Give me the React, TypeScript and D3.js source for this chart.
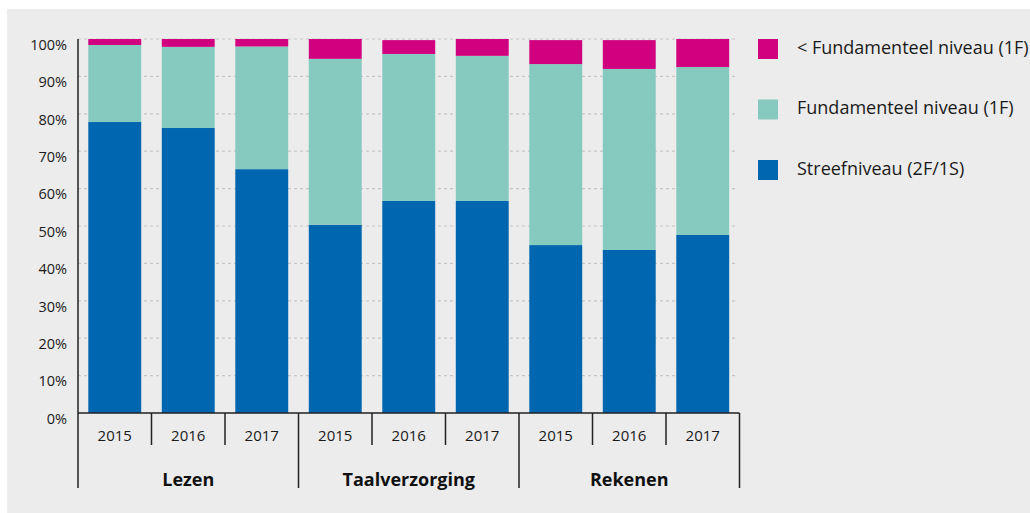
import React from "react";
import * as d3 from "d3";

const groups = ["Lezen", "Taalverzorging", "Rekenen"];
const years = ["2015", "2016", "2017"];
const seriesNames = ["Streefniveau (2F/1S)", "Fundamenteel niveau (1F)", "< Fundamenteel niveau (1F)"];
const seriesColors = ["#0066b0", "#85c9bf", "#d1007f"];
// per bar (group x year order)
const streef = [77.8, 76.2, 65.2, 50.3, 56.7, 56.7, 44.9, 43.6, 47.6];
const fundamenteel = [20.6, 21.7, 32.8, 44.4, 39.3, 38.8, 48.4, 48.4, 44.9];
const onder = [1.6, 2.1, 2.0, 5.3, 3.7, 4.5, 6.4, 7.7, 7.5];
const yTicks = [0, 10, 20, 30, 40, 50, 60, 70, 80, 90, 100];
const legendOrder = [2, 1, 0];

const W = 1030;
const H = 513;
const x0 = 78;
const x1 = 739.5;
const yTop = 39;
const yBottom = 413;
const font = "'Open Sans', 'DejaVu Sans', sans-serif";

export default function App() {
  const keys = groups.flatMap((g) => years.map((y) => `${g}|${y}`));
  const x = d3.scaleBand<string>().domain(keys).range([x0, x1]).paddingInner(0.28).paddingOuter(0.14);
  const y = d3.scaleLinear().domain([0, 100]).range([yBottom, yTop]);
  const rows = keys.map((k, i) => ({ key: k, s0: streef[i], s1: fundamenteel[i], s2: onder[i] }));
  const stack = d3.stack<any>().keys(["s0", "s1", "s2"]);
  const stacked = stack(rows);
  const step = (x1 - x0) / keys.length;

  return (
    <svg width={W} height={H} style={{ position: "absolute", left: 0, top: 0 }}>
      <rect x={7} y={9} width={W - 7} height={H - 9} fill="#ececec" />
      {yTicks.map((t) => (
        <g key={t}>
          {t > 0 && (
            <line x1={x0} x2={737} y1={y(t)} y2={y(t)} stroke="#c6c6c6" strokeWidth={1.2} strokeDasharray="3,3" />
          )}
          <text x={67} y={y(t) + 7} textAnchor="end" dominantBaseline="middle" fontFamily={font} fontSize={14.5} fill="#1a1a1a">
            {t}%
          </text>
        </g>
      ))}
      {stacked.map((layer, li) => (
        <g key={li} fill={seriesColors[li]}>
          {layer.map((d, i) => (
            <rect key={i} x={x(keys[i])} width={x.bandwidth()} y={y(d[1])} height={y(d[0]) - y(d[1])} />
          ))}
        </g>
      ))}
      <line x1={x0} x2={x0} y1={yTop} y2={yBottom} stroke="#222" strokeWidth={1.5} />
      <line x1={x0} x2={x1} y1={yBottom} y2={yBottom} stroke="#222" strokeWidth={1.5} />
      {keys.map((k, i) => {
        const bx = x0 + step * i;
        const isGroup = i % 3 === 0;
        return (
          <g key={k}>
            <line x1={bx} x2={bx} y1={yBottom} y2={isGroup ? 488 : 445} stroke="#222" strokeWidth={1.5} />
            <text x={bx + step / 2} y={437} textAnchor="middle" dominantBaseline="middle" fontFamily={font} fontSize={15} fill="#1a1a1a">
              {k.split("|")[1]}
            </text>
          </g>
        );
      })}
      <line x1={x1} x2={x1} y1={yBottom} y2={488} stroke="#222" strokeWidth={1.5} />
      {groups.map((g, gi) => (
        <text key={g} x={x0 + step * (gi * 3 + 1.5)} y={481} textAnchor="middle" dominantBaseline="middle" fontFamily={font} fontWeight="bold" fontSize={18} fill="#111">
          {g}
        </text>
      ))}
      {legendOrder.map((si, j) => {
        const ly = 39 + j * 60.5;
        return (
          <g key={si}>
            <rect x={758} y={ly} width={20} height={20} fill={seriesColors[si]} />
            <text x={797} y={ly + 10} dominantBaseline="middle" fontFamily={font} fontSize={18} fill="#1a1a1a">
              {seriesNames[si]}
            </text>
          </g>
        );
      })}
    </svg>
  );
}
